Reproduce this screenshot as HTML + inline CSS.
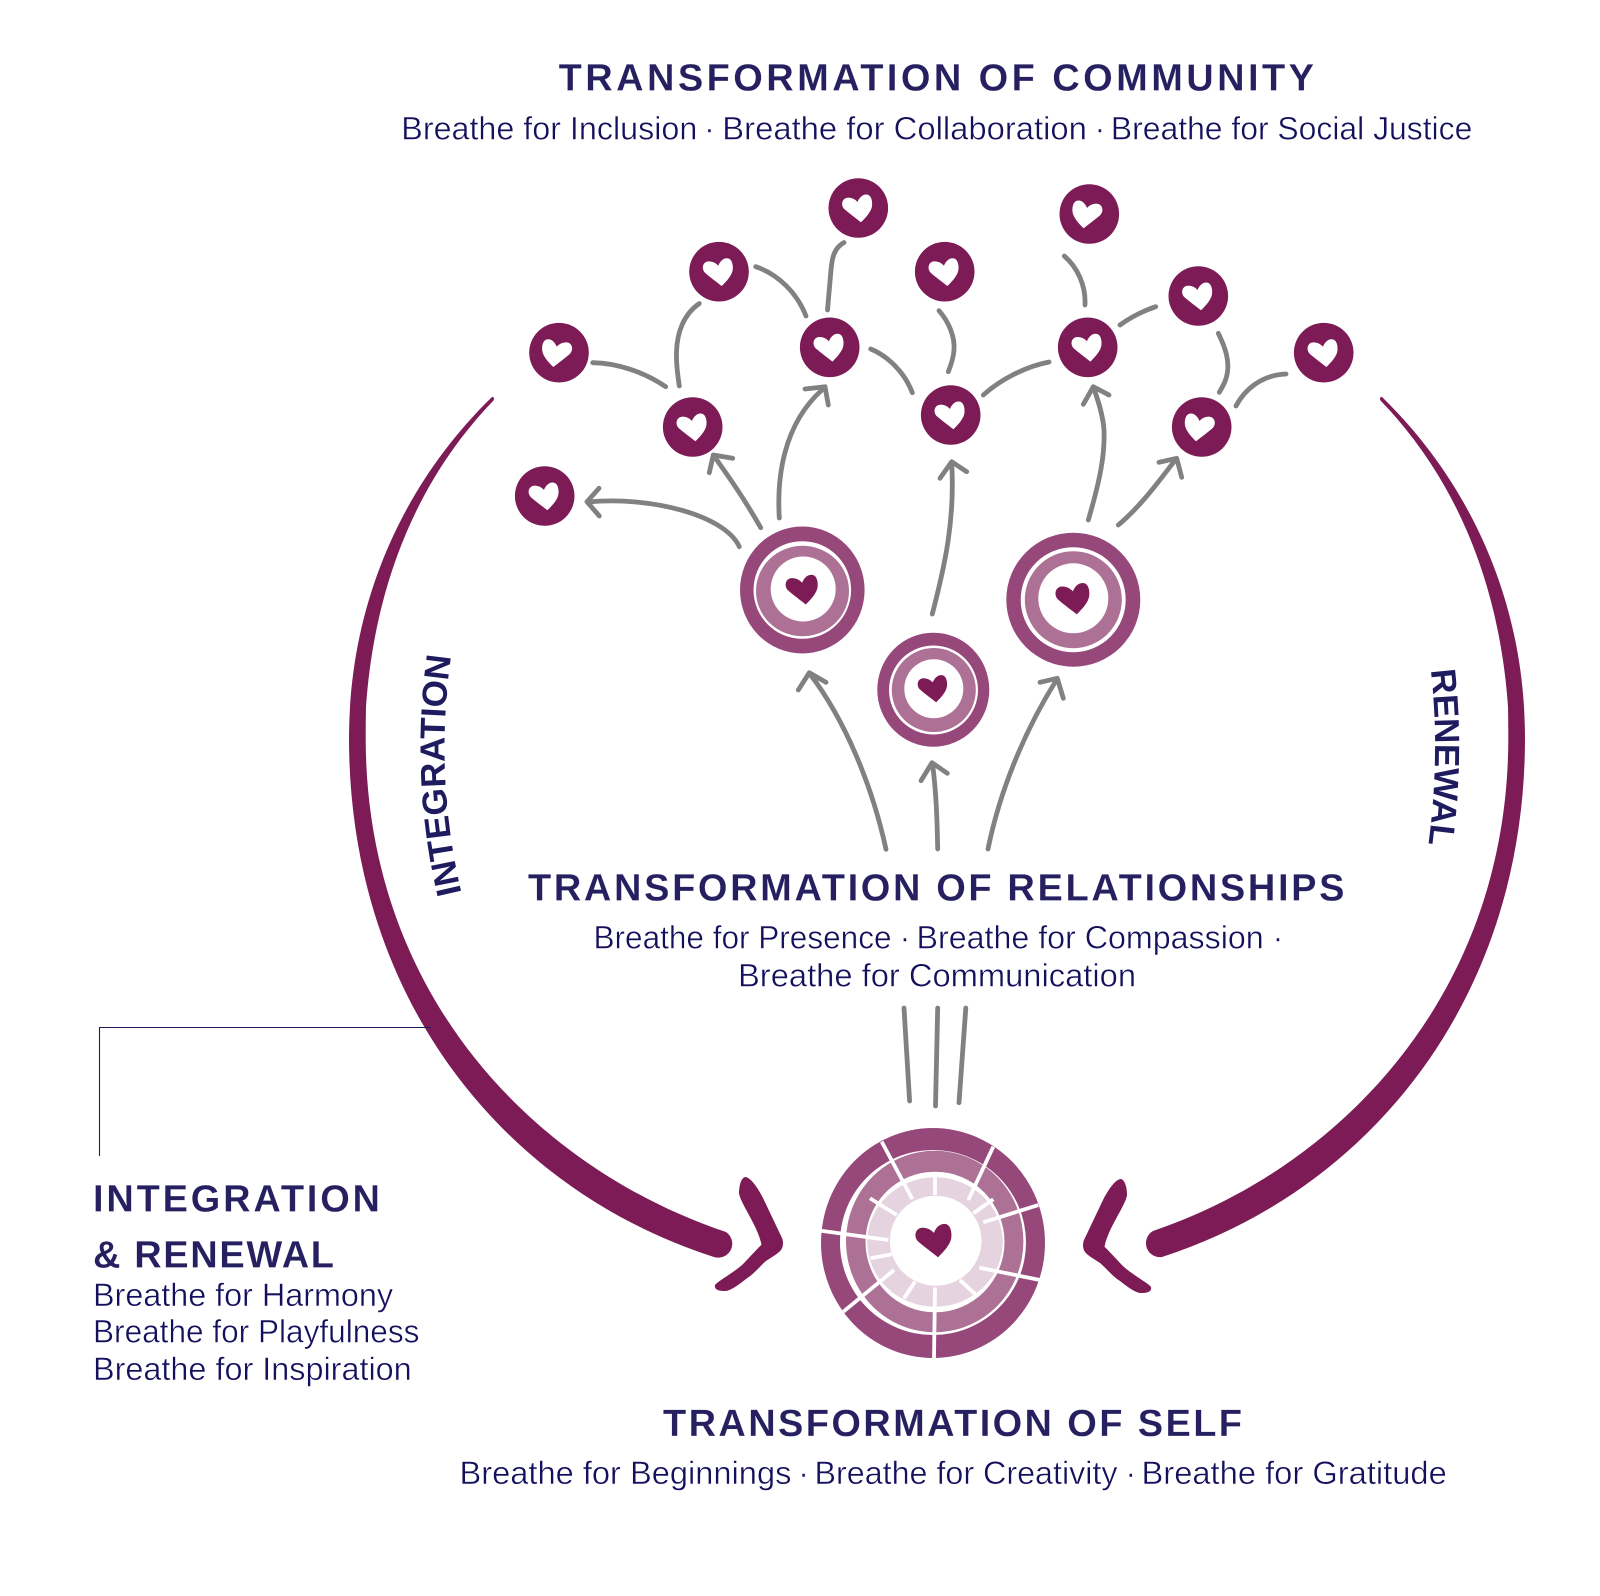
<!DOCTYPE html>
<html lang="en">
<head>
<meta charset="utf-8">
<title>Transformation diagram</title>
<style>
html,body{margin:0;padding:0;background:#fff;width:1600px;height:1596px;overflow:hidden}
svg{display:block}
text{font-family:"Liberation Sans",sans-serif}
.t{font-weight:bold;font-size:38px;fill:#272060;stroke:#fff;stroke-width:.15px}
.s{font-size:32px;fill:#15105c;stroke:#fff;stroke-width:.45px}
.d{text-anchor:middle}
.g{fill:none;stroke:#818181;stroke-width:4.8;stroke-linecap:round;stroke-linejoin:round}
.m{fill:#7c1b56}
.w{stroke:#fff;stroke-width:3.8;stroke-linecap:butt}
</style>
</head>
<body>
<svg width="1600" height="1596" viewBox="0 0 1600 1596" xmlns="http://www.w3.org/2000/svg">
<defs>
<path id="h" d="M2.7,14.3C-2,10.5-9,5.5-13.5,1.5C-18,-2.5-16.5,-10-10.5,-10.3C-6.5,-10.5-3,-8.5-.7,-6C.5,-9.5 3.5,-13.5 8,-13.5C12.5,-13.5 14.3,-8 13.8,-2.5C13.3,3.5 7.5,9.5 2.7,14.3Z"/>
<path id="chev" d="M1121,1179C1125,1180 1127,1188 1127,1195C1126,1205 1108,1228 1104.5,1246.7C1111,1253 1118,1261 1124,1267C1133,1275 1148,1283 1151,1287C1152,1292 1147,1293 1140,1293C1134,1292 1125,1285 1120,1281C1112,1276 1105,1267 1100,1263C1094,1259 1087,1255 1085,1252C1082,1248 1083,1242 1084,1240L1103,1200C1107,1192 1115,1179 1121,1179Z"/>
<path id="pi" d="M461.5,893Q433.6,775 451.7,652"/>
<path id="pr" d="M1430.7,670Q1440.6,755 1428,848"/>
</defs>

<!-- big arcs -->
<path class="m" d="M491.7,397.3C405,482 357,592 350,706.7C349.5,717 349,728 349,738C349,1000 505,1190 714,1257A14,14 0 0 0 726,1232C535,1168 365.7,995 365.7,738C365.7,728 365.8,717 366,706.7C374,592 413,484 493.3,400.7C495,398 493,396 491.7,397.3Z"/>
<path class="m" d="M1382.3,397.3C1469,482 1517,592 1524,706.7C1524.5,717 1525,728 1525,738C1525,1000 1369,1190 1162,1257A14,14 0 0 1 1153,1231C1339,1168 1508.3,995 1508.3,738C1508.3,728 1508.2,717 1508,706.7C1500,592 1461,484 1380.7,400.7C1379,398 1381,396 1382.3,397.3Z"/>
<use href="#chev" class="m"/>
<use href="#chev" class="m" transform="translate(1866,-2) scale(-1,1)"/>

<!-- leader -->
<path d="M431,1027.5H99.5V1156" fill="none" stroke="#1e1b5e" stroke-width="1.1"/>

<!-- grey connectors -->
<g class="g">
<path d="M844,242.5C834,248 832,258 831,270L827.5,310"/>
<path d="M755.7,266.7C778,274 797,293 806,316"/>
<path d="M699.3,303.5C684,314 677,332 676.5,352C676,366 678,376 679.3,386"/>
<path d="M592.7,362.7C617,363 644,372 665.7,386.7"/>
<path d="M870.7,349C888,356 905,373 912.3,392.7"/>
<path d="M939,310.7C949,322 955,337 954,350C953.5,358 951,365 948.3,371.7"/>
<path d="M1064.3,256C1077,267 1086,285 1085,305"/>
<path d="M1120,325C1131,317 1143,311 1155.7,306.7"/>
<path d="M983.3,395C1000,380 1024,367 1049,362"/>
<path d="M1218.3,333.3C1226,349 1229,360 1227.5,372C1226.5,380 1223,386 1219.3,392.3"/>
<path d="M1236,406C1245,389 1262,375 1286,374"/>
<!-- arrows -->
<path d="M779.3,518C777,480 782,425 823,389"/><path d="M805,389L825,386.7L828.3,405"/>
<path d="M760.7,527.7C745,500 731,480 714,456"/><path d="M709.3,472.7L713.3,455L732.7,458.3"/>
<path d="M739.3,546.7C725,515 650,496 588,502"/><path d="M599,488.3L587,501.7L599.3,516"/>
<path d="M932.3,614C945,565 955,520 951.7,463"/><path d="M940,478.3L951.7,461.7L966.7,471.7"/>
<path d="M1088.3,520C1100,480 1105,455 1104,430C1103,415 1098,400 1093.3,387"/><path d="M1083.3,404.3L1093.3,386.7L1109,395"/>
<path d="M1118.3,525C1140,507 1160,480 1176,459"/><path d="M1159,462.3L1176.7,458.3L1181.7,477.3"/>
<path d="M886,849.3C872,785 845,720 810,674"/><path d="M798.3,690L809.3,672.7L826,682.3"/>
<path d="M937.7,849C937,815 936,790 932.5,764"/><path d="M921,780.7L932,762.7L947.3,773.3"/>
<path d="M988,849C1000,790 1025,730 1056.5,680"/><path d="M1040,682.3L1057.3,678.3L1063.3,698.3"/>
<path d="M904,1008L909.6,1101"/>
<path d="M937.7,1008L935.5,1106"/>
<path d="M965.8,1008L959,1102.7"/>
</g>

<!-- small nodes -->
<g class="m">
<circle cx="858.3" cy="208" r="29.8"/><circle cx="719" cy="271.7" r="29.8"/><circle cx="559" cy="352.7" r="29.8"/>
<circle cx="692.7" cy="427" r="29.8"/><circle cx="829.7" cy="347.3" r="29.8"/><circle cx="944.7" cy="271.7" r="29.8"/>
<circle cx="950.7" cy="415" r="29.8"/><circle cx="544.7" cy="496" r="29.8"/><circle cx="1089.3" cy="214" r="29.8"/>
<circle cx="1087.7" cy="347.3" r="29.8"/><circle cx="1198.3" cy="296" r="29.8"/><circle cx="1323.7" cy="352.7" r="29.8"/>
<circle cx="1201.7" cy="427" r="29.8"/>
</g>
<g fill="#fff">
<use href="#h" transform="translate(858.3,208)"/>
<use href="#h" transform="translate(719,271.7)"/>
<use href="#h" transform="translate(556,352.7) scale(-1,1)"/>
<use href="#h" transform="translate(692.7,427)"/>
<use href="#h" transform="translate(829.7,347.3)"/>
<use href="#h" transform="translate(944.7,271.7)"/>
<use href="#h" transform="translate(950.7,415)"/>
<use href="#h" transform="translate(544.7,496)"/>
<use href="#h" transform="translate(1086.3,214) scale(-1,1)"/>
<use href="#h" transform="translate(1087.7,347.3)"/>
<use href="#h" transform="translate(1198.3,296)"/>
<use href="#h" transform="translate(1323.7,352.7)"/>
<use href="#h" transform="translate(1198.7,427) scale(-1,1)"/>
</g>

<!-- concentric nodes -->
<ellipse cx="802.3" cy="590" rx="62.3" ry="63.5" fill="#96487a"/><circle cx="802.3" cy="590" r="48.8" fill="#fff"/>
<ellipse cx="802.5" cy="591" rx="46.5" ry="45.2" fill="#ad7196"/><circle cx="803.2" cy="589" r="32.5" fill="#fff"/>
<use href="#h" class="m" transform="translate(802.9,589.2) scale(1.07)"/>

<ellipse cx="933.3" cy="689.7" rx="56" ry="57" fill="#96487a"/><circle cx="933.5" cy="690" r="44.5" fill="#fff"/>
<circle cx="933.8" cy="690" r="42" fill="#ad7196"/><circle cx="933.8" cy="688.7" r="29.5" fill="#fff"/>
<use href="#h" class="m" transform="translate(933.5,688.3) scale(.98)"/>

<circle cx="1073.3" cy="599.7" r="67" fill="#96487a"/><circle cx="1073.2" cy="599.7" r="52.5" fill="#fff"/>
<circle cx="1073.3" cy="599.7" r="48.5" fill="#ad7196"/><circle cx="1073.3" cy="598.3" r="35" fill="#fff"/>
<use href="#h" class="m" transform="translate(1073.7,598.2) scale(1.13)"/>

<!-- wheel -->
<ellipse cx="933" cy="1243" rx="112" ry="115" fill="#96487a"/>
<ellipse cx="933" cy="1242.5" rx="93" ry="92.5" fill="#fff"/>
<ellipse cx="934.7" cy="1241.5" rx="88.7" ry="90.8" fill="#ad7196"/>
<ellipse cx="935" cy="1242" rx="69.5" ry="70.3" fill="#fff"/>
<ellipse cx="935" cy="1242" rx="67.7" ry="64.7" fill="#e6d3e0"/>
<ellipse cx="935.7" cy="1240.7" rx="45.8" ry="45" fill="#fff"/>
<g class="w">
<path d="M881.7,1141.7L912.3,1199"/>
<path d="M993.3,1146.7L968.3,1200"/>
<path d="M1038.3,1205L983.3,1222.3"/>
<path d="M1040,1280L979.3,1267.7"/>
<path d="M934,1358.3L935,1287.3"/>
<path d="M843.3,1311.7L894,1270"/>
<path d="M821,1230.7L888.3,1240"/>
<path d="M935,1177.3V1195"/>
<path d="M870,1198.3L896.7,1215"/>
<path d="M870.7,1258.3L891.7,1254.3"/>
<path d="M915,1281.7L904,1298.3"/>
<path d="M960,1280L975,1294"/>
<path d="M973.3,1213.3L993.3,1199.3"/>
</g>
<use href="#h" class="m" transform="translate(934.8,1240.1) scale(1.2)"/>

<!-- text -->
<text class="t" x="558.6" y="90.7" textLength="755.4" lengthAdjust="spacing">TRANSFORMATION OF COMMUNITY</text>
<text class="s" x="401.3" y="139.5" textLength="296" lengthAdjust="spacingAndGlyphs">Breathe for Inclusion</text>
<text class="s d" x="709.5" y="139.5">·</text>
<text class="s" x="722.3" y="139.5" textLength="364.6" lengthAdjust="spacingAndGlyphs">Breathe for Collaboration</text>
<text class="s d" x="1100" y="139.5">·</text>
<text class="s" x="1110.9" y="139.5" textLength="361.4" lengthAdjust="spacingAndGlyphs">Breathe for Social Justice</text>

<text class="t" x="528" y="900.7" textLength="816.5" lengthAdjust="spacing">TRANSFORMATION OF RELATIONSHIPS</text>
<text class="s" x="593.5" y="948.5" textLength="298" lengthAdjust="spacingAndGlyphs">Breathe for Presence</text>
<text class="s d" x="905" y="948.5">·</text>
<text class="s" x="916.5" y="948.5" textLength="347.2" lengthAdjust="spacingAndGlyphs">Breathe for Compassion</text>
<text class="s d" x="1278" y="948.5">·</text>
<text class="s" x="738" y="986.5" textLength="398" lengthAdjust="spacingAndGlyphs">Breathe for Communication</text>

<text class="t" x="663" y="1436" textLength="579" lengthAdjust="spacing">TRANSFORMATION OF SELF</text>
<text class="s" x="459.5" y="1484" textLength="331.9" lengthAdjust="spacingAndGlyphs">Breathe for Beginnings</text>
<text class="s d" x="803.6" y="1484">·</text>
<text class="s" x="814.5" y="1484" textLength="303" lengthAdjust="spacingAndGlyphs">Breathe for Creativity</text>
<text class="s d" x="1130.8" y="1484">·</text>
<text class="s" x="1141.5" y="1484" textLength="305.3" lengthAdjust="spacingAndGlyphs">Breathe for Gratitude</text>

<text class="t" x="93" y="1211.7" textLength="287" lengthAdjust="spacing">INTEGRATION</text>
<text class="t" x="93" y="1267.7" textLength="241" lengthAdjust="spacing">&amp; RENEWAL</text>
<text class="s" x="93" y="1306" textLength="300" lengthAdjust="spacingAndGlyphs">Breathe for Harmony</text>
<text class="s" x="93" y="1342.7" textLength="326.4" lengthAdjust="spacingAndGlyphs">Breathe for Playfulness</text>
<text class="s" x="93" y="1380" textLength="318.7" lengthAdjust="spacingAndGlyphs">Breathe for Inspiration</text>

<text font-size="35" font-weight="bold" fill="#1e1b5e"><textPath href="#pi">INTEGRATION</textPath></text>
<text font-size="35" font-weight="bold" fill="#1e1b5e"><textPath href="#pr">RENEWAL</textPath></text>
</svg>
</body>
</html>
